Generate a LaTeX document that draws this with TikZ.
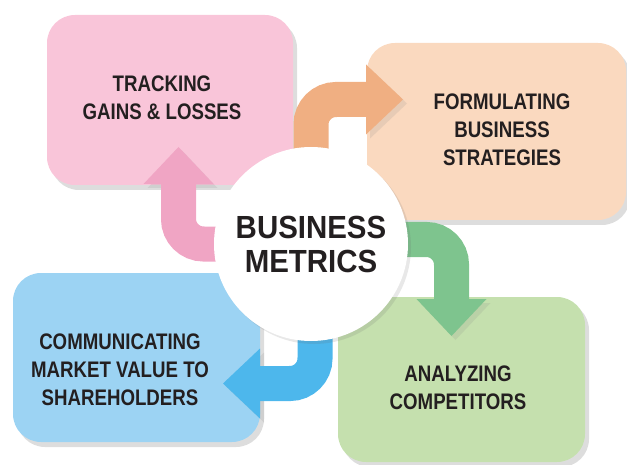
\documentclass[tikz,border=0pt]{standalone}
\usepackage{fontspec}
\newfontfamily\boxfont{Liberation Sans}[FakeStretch=0.83]
\newfontfamily\hubfont{Liberation Sans}[FakeStretch=0.92]
\usetikzlibrary{arrows.meta,shadows}

\definecolor{pinkbox}{RGB}{249,197,217}
\definecolor{pinkarr}{RGB}{240,165,196}
\definecolor{peachbox}{RGB}{250,217,191}
\definecolor{peacharr}{RGB}{240,175,130}
\definecolor{greenbox}{RGB}{197,224,174}
\definecolor{greenarr}{RGB}{126,196,142}
\definecolor{bluebox}{RGB}{156,211,243}
\definecolor{bluearr}{RGB}{77,183,236}
\definecolor{ink}{RGB}{35,31,32}

\tikzset{
    metricbox/.style={rectangle, rounded corners=14pt, inner sep=0pt,
        drop shadow={shadow xshift=2pt, shadow yshift=-2.5pt, opacity=.22, fill=black!60}},
    metrictext/.style={align=center, text=ink, inner sep=0pt,
        font=\boxfont\bfseries\fontsize{11.25pt}{14pt}\selectfont},
    bentarrow/.style={line width=17.5pt, rounded corners=12.5pt,
        -{Triangle[width=35pt,length=18.5pt,line width=0pt]},
        preaction={draw=black!50, opacity=.15, transform canvas={shift={(2pt,-2pt)}}}},
}

\begin{document}
\begin{tikzpicture}[x=0.5pt,y=-0.5pt]
        \useasboundingbox (0,0) rectangle (627,465);
        % the four boxes
        \node[metricbox, fill=pinkbox, minimum width=123pt, minimum height=85pt] (track) at (170,100) {};
        \node[metricbox, fill=peachbox, minimum width=129.5pt, minimum height=88.5pt] (strat) at (496.5,131.5) {};
        \node[metricbox, fill=greenbox, minimum width=123.5pt, minimum height=82.5pt] (comp) at (461.5,379.5) {};
        \node[metricbox, fill=bluebox, minimum width=123.5pt, minimum height=84.5pt] (share) at (136.5,357.5) {};
        \node[metrictext] (track text) at (162,97.5) {TRACKING\\GAINS \& LOSSES};
        \node[metrictext] (strat text) at (502,130) {FORMULATING\\BUSINESS\\STRATEGIES};
        \node[metrictext] (comp text) at (458,388) {ANALYZING\\COMPETITORS};
        \node[metrictext] (share text) at (120,370) {COMMUNICATING\\MARKET VALUE TO\\SHAREHOLDERS};
        % bent arrows out of the middle
        \coordinate (hub) at (311,244);
        \coordinate (pink tip) at (178.5,147);
        \coordinate (peach tip) at (403,99.5);
        \coordinate (green tip) at (451.5,336);
        \coordinate (blue tip) at (223,383.5);
        \draw[bentarrow, pinkarr] (hub) -| (pink tip);
        \draw[bentarrow, peacharr] (hub) |- (peach tip);
        \draw[bentarrow, greenarr] ([yshift=2.25pt]hub) -| (green tip);
        \draw[bentarrow, bluearr] ([xshift=2pt]hub) |- (blue tip);
        % centre
        \node[circle, fill=white, minimum size=97pt, inner sep=0pt, align=center, text=ink,
            font=\hubfont\bfseries\fontsize{16pt}{17pt}\selectfont,
            drop shadow={shadow xshift=1.5pt, shadow yshift=-1.5pt, opacity=.15, fill=black!60}]
            (metrics) at (hub) {BUSINESS\\METRICS};
    \end{tikzpicture}
\end{document}
